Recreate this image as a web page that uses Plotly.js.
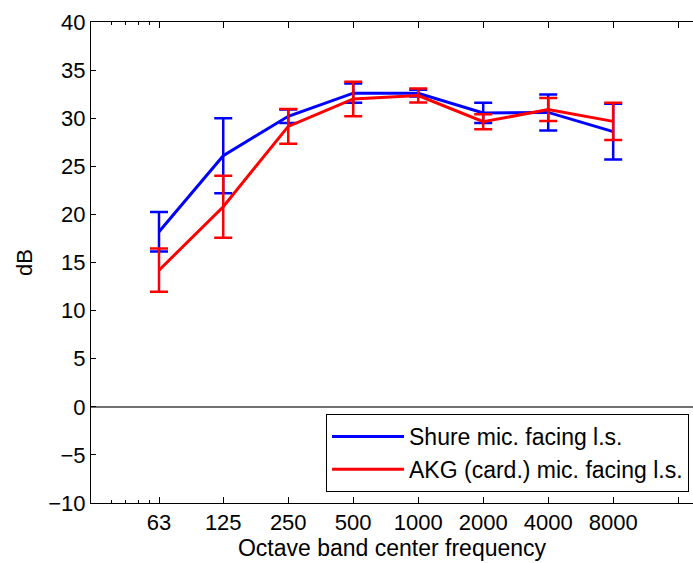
<!DOCTYPE html>
<html>
<head>
<meta charset="utf-8">
<script src="https://cdn.plot.ly/plotly-3.0.1.min.js"></script>
<style>html,body{margin:0;padding:0;background:#fff;}</style>
</head>
<body>
<div id="chart" style="width:693px;height:563px;"></div>
<script>
// Octave band centre frequencies (Hz)
const freqs = [63, 125, 250, 500, 1000, 2000, 4000, 8000];
const tickVals = [63, 125, 250, 500, 1000, 2000, 4000, 8000, 16000];
const tickLabels = ['63', '125', '250', '500', '1000', '2000', '4000', '8000', ''];
const minorTickVals = [37.8, 44.1, 50.4, 56.7];

// Shure mic. facing l.s.
const shureMean = [18.2, 26.1, 30.2, 32.6, 32.6, 30.55, 30.6, 28.6];
const shureErr  = [2.05, 3.9, 0.7, 1.0, 0.35, 1.05, 1.87, 2.9];

// AKG (card.) mic. facing l.s.
const akgMean = [14.2, 20.8, 29.15, 32.0, 32.35, 29.63, 30.9, 29.67];
const akgErr  = [2.25, 3.22, 1.8, 1.8, 0.73, 0.78, 1.2, 1.93];

const seriesNames = ['Shure mic. facing l.s.', 'AKG (card.) mic. facing l.s.'];

const FONT = '"Liberation Sans", Arial, Helvetica, sans-serif';
const FS = 22;
const FS_BIG = 23;

const traces = [
  {
    x: freqs, y: shureMean, name: seriesNames[0], type: 'scatter', mode: 'lines',
    line: {color: '#0000ff', width: 3},
    error_y: {type: 'data', array: shureErr, visible: true, color: '#0000ff', thickness: 2.5, width: 9}
  },
  {
    x: freqs, y: akgMean, name: seriesNames[1], type: 'scatter', mode: 'lines',
    line: {color: '#ff0000', width: 3},
    error_y: {type: 'data', array: akgErr, visible: true, color: '#ff0000', thickness: 2.5, width: 9}
  }
];

const layout = {
  width: 693, height: 563,
  margin: {l: 91, r: 0, t: 22, b: 60},
  paper_bgcolor: '#fff', plot_bgcolor: '#fff',
  font: {family: FONT, size: FS, color: '#000'},
  showlegend: true,
  legend: {
    x: 0.9934, y: 0.0229, xanchor: 'right', yanchor: 'bottom',
    bgcolor: '#fff', bordercolor: '#000', borderwidth: 1,
    font: {family: FONT, size: FS_BIG, color: '#000'},
    itemwidth: 72, tracegroupgap: 0
  },
  xaxis: {
    type: 'log',
    range: [1.4844, 4.2727],
    tickmode: 'array', tickvals: tickVals, ticktext: tickLabels,
    ticks: 'inside', ticklen: 6, tickcolor: '#000', tickwidth: 1,
    showline: true, linecolor: '#000', linewidth: 1, mirror: 'ticks',
    showgrid: false, zeroline: false,
    tickfont: {family: FONT, size: FS, color: '#000'},
    minor: {tickmode: 'array', tickvals: minorTickVals, ticks: 'inside', ticklen: 3, tickcolor: '#000', showgrid: false},
    title: {text: 'Octave band center frequency', font: {family: FONT, size: FS_BIG, color: '#000'}, standoff: 2}
  },
  yaxis: {
    range: [-10, 40], dtick: 5, tick0: 0,
    ticks: 'inside', ticklen: 5, tickcolor: '#000', tickwidth: 1,
    showline: true, linecolor: '#000', linewidth: 1, mirror: false,
    showgrid: false,
    zeroline: true, zerolinecolor: '#707070', zerolinewidth: 1.5,
    tickfont: {family: FONT, size: FS, color: '#000'},
    title: {text: 'dB', font: {family: FONT, size: FS, color: '#000'}, standoff: 9}
  }
};

Plotly.newPlot('chart', traces, layout, {displayModeBar: false, staticPlot: true});
</script>
</body>
</html>
